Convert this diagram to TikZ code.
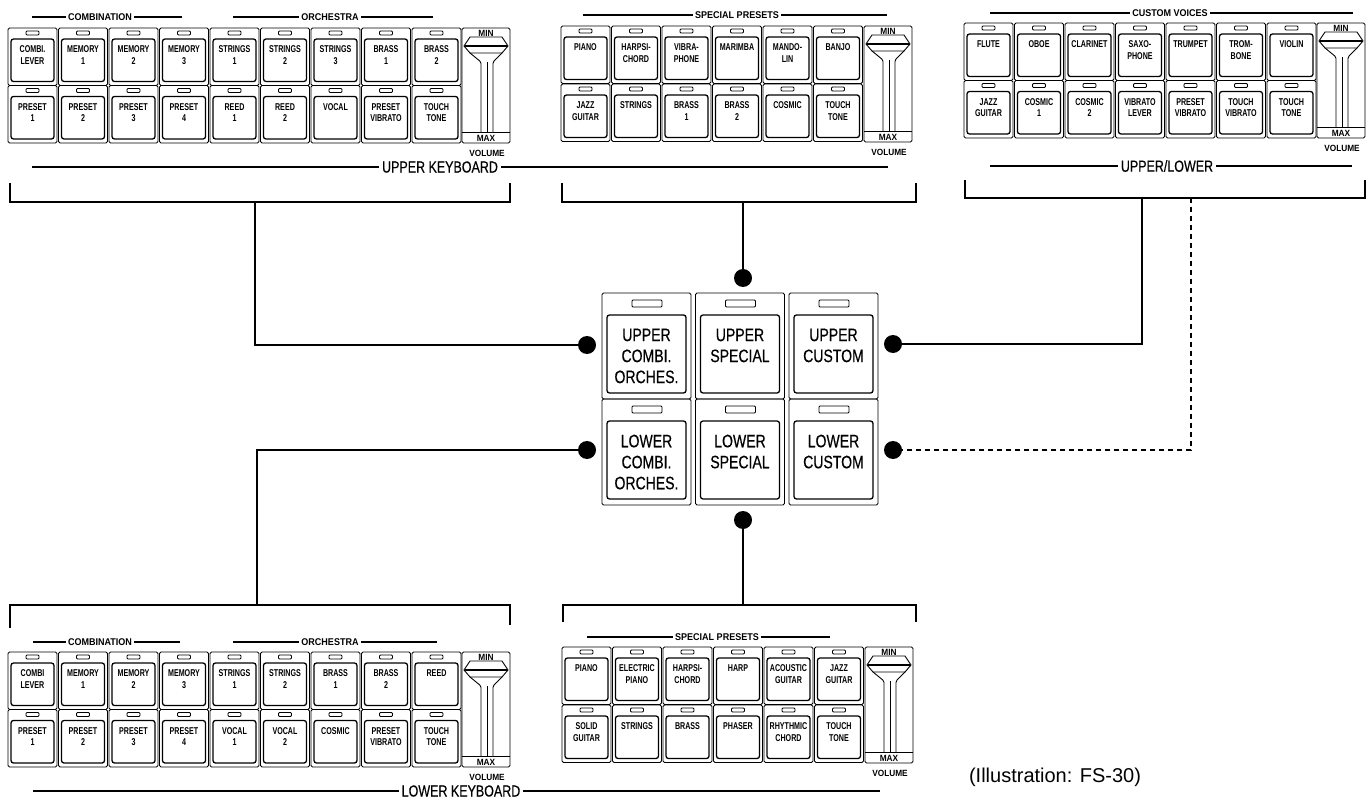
\documentclass[tikz,border=0pt]{standalone}
\usepackage{fontspec}
\setmainfont{Liberation Sans}
\newfontfamily\btnfont[FakeStretch=0.72]{Liberation Sans}
\newfontfamily\lblfont[FakeStretch=0.92]{Liberation Sans}
\newfontfamily\capsfont[FakeStretch=0.78,FakeBold=0.4]{Liberation Sans}
\usetikzlibrary{positioning,calc}

% one tab button: name, left, top, label
\newcommand{\tabbtn}[4]{%
  \draw[btnframe] (#2,#3) rectangle ++(49,57.5);
  \draw[btnled] (#2+18,#3+3) rectangle ++(13,4);
  \draw[btnface] (#2+3,#3+11) rectangle ++(43,42.5);
  \node[btntext] (#1) at (#2+24.5,#3+17.5) {#4};
}
% volume slider: name, left, top, height
\newcommand{\volslider}[4]{%
  \draw[btnframe] (#2,#3) rectangle ++(48,#4);
  \node[tinytext] (#1-min) at (#2+24,#3+5) {MIN};
  \draw[btnframe, rounded corners=0pt] (#2+2,#3+18) -- (#2+8,#3+9) -- (#2+40,#3+9) -- (#2+46,#3+18) -- (#2+40,#3+25) -- (#2+8,#3+25) -- cycle;
  \draw[line width=2.2pt] (#2+3,#3+18) -- (#2+45,#3+18);
  \draw[btnframe] (#2+8,#3+25) -- (#2+19,#3+34) -- (#2+19,#3+#4-11);
  \draw[btnframe] (#2+40,#3+25) -- (#2+31,#3+34) -- (#2+31,#3+#4-11);
  \draw[btnframe] (#2+25,#3+34) -- (#2+25,#3+#4-11);
  \draw[btnframe] (#2,#3+#4-11) -- (#2+48,#3+#4-11);
  \node[tinytext] (#1-max) at (#2+24,#3+#4-5) {MAX};
  \node[tinytext] (#1-vol) at (#2+25,#3+#4+10) {VOLUME};
}
% big selector button: name, left, top, label
\newcommand{\bigbtn}[4]{%
  \draw[btnframe] (#2,#3) rectangle ++(89,106);
  \draw[btnled] (#2+30,#3+7) rectangle ++(30,7);
  \draw[btnface] (#2+5,#3+22) rectangle ++(79,78);
  \node[bigtext] (#1) at (#2+44.5,#3+35.5) {#4};
}

\begin{document}
\begin{tikzpicture}[x=1pt, y=-1pt,
  btnframe/.style={line width=0.9pt, rounded corners=1.5pt},
  btnface/.style={line width=1.3pt, rounded corners=2.5pt},
  btnled/.style={line width=0.9pt, rounded corners=1pt},
  btntext/.style={font=\btnfont\bfseries\fontsize{9.9}{11.8}\selectfont, align=center, anchor=north, inner sep=0pt},
  bigtext/.style={font=\capsfont\fontsize{18}{21}\selectfont, align=center, anchor=north, inner sep=0pt},
  tinytext/.style={font=\lblfont\bfseries\fontsize{9}{10}\selectfont, inner sep=0pt},
  seclabel/.style={font=\lblfont\bfseries\fontsize{9.8}{11}\selectfont, fill=white, inner xsep=2pt, inner ysep=1pt},
  kblabel/.style={font=\capsfont\fontsize{16}{18}\selectfont, fill=white, inner xsep=3pt, inner ysep=1pt},
  thinrule/.style={line width=1.1pt},
  kbrule/.style={line width=1.5pt},
  bracket/.style={line width=2.5pt},
  wire/.style={line width=2.5pt},
  joint/.style={circle, fill=black, minimum size=18pt, inner sep=0pt}]

  \fill[white] (0,0) rectangle (1368,802);
  \useasboundingbox (0,0) rectangle (1368,802);

  % Upper keyboard: combination / orchestra
  \draw[thinrule] (32,17) -- (182,17);
  \node[seclabel] (ulcomb) at (100,17) {COMBINATION};
  \draw[thinrule] (233,17) -- (433,17);
  \node[seclabel] (ulorch) at (330,17) {ORCHESTRA};
  \foreach \lbl [count=\i from 0] in {{COMBI.\\LEVER},{MEMORY\\1},{MEMORY\\2},{MEMORY\\3},{STRINGS\\1},{STRINGS\\2},{STRINGS\\3},{BRASS\\1},{BRASS\\2}}
    {\tabbtn{ul-a\i}{8+50.5*\i}{28}{\lbl}}
  \foreach \lbl [count=\i from 0] in {{PRESET\\1},{PRESET\\2},{PRESET\\3},{PRESET\\4},{REED\\1},{REED\\2},VOCAL,{PRESET\\VIBRATO},{TOUCH\\TONE}}
    {\tabbtn{ul-b\i}{8+50.5*\i}{85.5}{\lbl}}
  \volslider{ulvol}{462}{28}{115}

  % Upper keyboard: special presets
  \draw[thinrule] (583,15) -- (887,15);
  \node[seclabel] (umspec) at (737,15) {SPECIAL PRESETS};
  \foreach \lbl [count=\i from 0] in {PIANO,{HARPSI-\\CHORD},{VIBRA-\\PHONE},MARIMBA,{MANDO-\\LIN},BANJO}
    {\tabbtn{um-a\i}{561+50.5*\i}{26}{\lbl}}
  \foreach \lbl [count=\i from 0] in {{JAZZ\\GUITAR},STRINGS,{BRASS\\1},{BRASS\\2},COSMIC,{TOUCH\\TONE}}
    {\tabbtn{um-b\i}{561+50.5*\i}{84}{\lbl}}
  \volslider{umvol}{864}{26}{116}

  % Upper/lower: custom voices
  \draw[thinrule] (990,13) -- (1353,13);
  \node[seclabel] (urcust) at (1170,13) {CUSTOM VOICES};
  \foreach \lbl [count=\i from 0] in {FLUTE,OBOE,CLARINET,{SAXO-\\PHONE},TRUMPET,{TROM-\\BONE},VIOLIN}
    {\tabbtn{ur-a\i}{964+50.5*\i}{23}{\lbl}}
  \foreach \lbl [count=\i from 0] in {{JAZZ\\GUITAR},{COSMIC\\1},{COSMIC\\2},{VIBRATO\\LEVER},{PRESET\\VIBRATO},{TOUCH\\VIBRATO},{TOUCH\\TONE}}
    {\tabbtn{ur-b\i}{964+50.5*\i}{80.5}{\lbl}}
  \volslider{urvol}{1317}{23}{115}

  % Keyboard captions and brackets (top)
  \draw[kbrule] (32,167) -- (888,167);
  \node[kblabel] (upkb) at (440,167) {UPPER KEYBOARD};
  \draw[kbrule] (990,166) -- (1352,166);
  \node[kblabel] (uplo) at (1167,166) {UPPER/LOWER};
  \draw[bracket] (10,183) -- (10,202) -- (510,202) -- (510,183);
  \draw[bracket] (562,183) -- (562,202) -- (916,202) -- (916,183);
  \draw[bracket] (965,180) -- (965,198) -- (1365,198) -- (1365,180);
  \coordinate (ulbr) at (255,202);
  \coordinate (umbr) at (743,202);
  \coordinate (urbr) at (1142,198);
  \coordinate (urdash) at (1191,198);

  % Selector buttons
  \bigbtn{sel-uc}{602}{293}{UPPER\\COMBI.\\ORCHES.}
  \bigbtn{sel-us}{695.5}{293}{UPPER\\SPECIAL}
  \bigbtn{sel-uv}{789}{293}{UPPER\\CUSTOM}
  \bigbtn{sel-lc}{602}{399}{LOWER\\COMBI.\\ORCHES.}
  \bigbtn{sel-ls}{695.5}{399}{LOWER\\SPECIAL}
  \bigbtn{sel-lv}{789}{399}{LOWER\\CUSTOM}

  % Joints
  \node[joint] (j-ul) at (587,345) {};
  \node[joint] (j-um) at (743,278) {};
  \node[joint] (j-ur) at (893,344) {};
  \node[joint] (j-ll) at (587,450) {};
  \node[joint] (j-lm) at (743,520) {};
  \node[joint] (j-lr) at (893,450) {};

  % Keyboard captions and brackets (bottom)
  \draw[bracket] (10,628) -- (10,605) -- (510,605) -- (510,625);
  \draw[bracket] (563,622) -- (563,605) -- (916,605) -- (916,622);
  \coordinate (llbr) at (257,605);
  \coordinate (lmbr) at (743,605);

  % Connectors
  \draw[wire] (ulbr) |- (j-ul);
  \draw[wire] (umbr) -- (j-um);
  \draw[wire] (urbr) |- (j-ur);
  \draw[wire, dash pattern=on 5pt off 4pt] (urdash) |- (j-lr);
  \draw[wire] (llbr) |- (j-ll);
  \draw[wire] (lmbr) -- (j-lm);

  % Lower keyboard: combination / orchestra
  \draw[thinrule] (33,642) -- (180,642);
  \node[seclabel] (llcomb) at (100,642) {COMBINATION};
  \draw[thinrule] (233,642) -- (437,642);
  \node[seclabel] (llorch) at (330,642) {ORCHESTRA};
  \foreach \lbl [count=\i from 0] in {{COMBI\\LEVER},{MEMORY\\1},{MEMORY\\2},{MEMORY\\3},{STRINGS\\1},{STRINGS\\2},{BRASS\\1},{BRASS\\2},REED}
    {\tabbtn{ll-a\i}{8+50.5*\i}{652}{\lbl}}
  \foreach \lbl [count=\i from 0] in {{PRESET\\1},{PRESET\\2},{PRESET\\3},{PRESET\\4},{VOCAL\\1},{VOCAL\\2},COSMIC,{PRESET\\VIBRATO},{TOUCH\\TONE}}
    {\tabbtn{ll-b\i}{8+50.5*\i}{709.5}{\lbl}}
  \volslider{llvol}{462}{652}{115}

  % Lower keyboard: special presets
  \draw[thinrule] (587,637) -- (830,637);
  \node[seclabel] (lmspec) at (717,637) {SPECIAL PRESETS};
  \foreach \lbl [count=\i from 0] in {PIANO,{ELECTRIC\\PIANO},{HARPSI-\\CHORD},HARP,{ACOUSTIC\\GUITAR},{JAZZ\\GUITAR}}
    {\tabbtn{lm-a\i}{562+50.5*\i}{647}{\lbl}}
  \foreach \lbl [count=\i from 0] in {{SOLID\\GUITAR},STRINGS,BRASS,PHASER,{RHYTHMIC\\CHORD},{TOUCH\\TONE}}
    {\tabbtn{lm-b\i}{562+50.5*\i}{705}{\lbl}}
  \volslider{lmvol}{865}{647}{116}

  \draw[kbrule] (33,791) -- (880,791);
  \node[kblabel] (lokb) at (461,791) {LOWER KEYBOARD};
  \node[font=\fontsize{20}{22}\selectfont, inner sep=0pt] (illus) at (1055,777) {(Illustration: FS-30)};
\end{tikzpicture}
\end{document}
